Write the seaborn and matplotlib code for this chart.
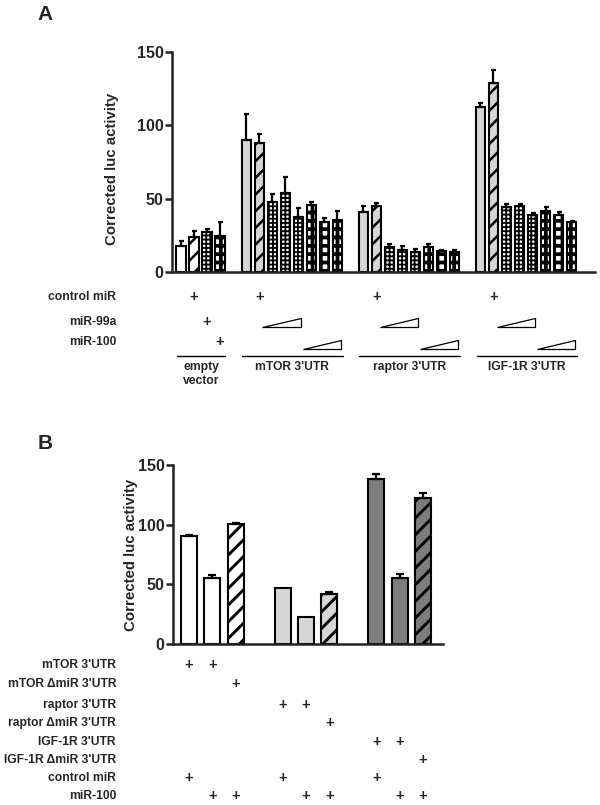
import numpy as np
import pandas as pd
import matplotlib
matplotlib.use("Agg")
import matplotlib.pyplot as plt
import seaborn as sns
from matplotlib.transforms import blended_transform_factory
from matplotlib.patches import Polygon

sns.set_theme(style="white")
plt.rcParams["font.family"] = ["Liberation Sans", "DejaVu Sans"]
plt.rcParams["font.weight"] = "bold"
plt.rcParams["axes.labelweight"] = "bold"
plt.rcParams["hatch.linewidth"] = 1.6

# ---------------- Panel A data ----------------
a_group_labels = ["empty\nvector", "mTOR 3'UTR", "raptor 3'UTR", "IGF-1R 3'UTR"]
a_empty_vals = [17.7, 23.9, 27.3, 24.5]
a_empty_sem = [3.3, 4.1, 2.0, 9.5]
a_mtor_vals = [90.0, 88.0, 48.0, 54.0, 37.8, 45.7, 34.2, 35.4]
a_mtor_sem = [18.0, 6.0, 5.0, 11.0, 5.8, 2.1, 2.6, 6.3]
a_raptor_vals = [41.0, 45.0, 17.0, 15.0, 13.6, 17.0, 14.3, 13.6]
a_raptor_sem = [4.0, 2.0, 2.0, 2.7, 2.1, 2.0, 0.7, 1.4]
a_igf_vals = [112.7, 128.6, 44.5, 45.0, 38.9, 41.6, 38.9, 34.3]
a_igf_sem = [2.7, 9.4, 1.9, 1.4, 1.1, 2.9, 1.8, 0.4]
a_empty_styles = ["white", "white_diag", "checker", "bricks"]
a_utr_styles = ["gray", "gray_diag", "checker", "checker", "checker", "bricks", "bricks", "bricks"]
a_row_labels = ["control miR", "miR-99a", "miR-100"]

# ---------------- Panel B data ----------------
b_vals = [90.5, 55.3, 100.6, 47.0, 22.6, 42.0, 138.3, 55.3, 122.4]
b_sem = [0.6, 2.5, 1.0, 0.0, 0.0, 1.6, 4.5, 3.2, 4.0]
b_styles = ["white", "white", "white_diag", "lgray", "lgray", "lgray_diag", "dgray", "dgray", "dgray_diag"]
b_row_labels = ["mTOR 3'UTR", "mTOR \u0394miR 3'UTR", "raptor 3'UTR", "raptor \u0394miR 3'UTR",
                "IGF-1R 3'UTR", "IGF-1R \u0394miR 3'UTR", "control miR", "miR-100"]
# which bar (index) gets a "+" in each row
b_plus = [[0, 1], [2], [3, 4], [5], [6, 7], [8], [0, 3, 6], [1, 2, 4, 5, 7, 8]]

LGRAY = "#d6d6d6"
DGRAY = "#7d7d7f"

# positions (slots) for bars: groups separated by one empty slot
a_vals = a_empty_vals + a_mtor_vals + a_raptor_vals + a_igf_vals
a_sem = a_empty_sem + a_mtor_sem + a_raptor_sem + a_igf_sem
a_styles = a_empty_styles + a_utr_styles * 3
a_sizes = [4, 8, 8, 8]
a_pos, a_starts = [], []
p = 0
for n in a_sizes:
    a_starts.append(p)
    a_pos.extend(range(p, p + n))
    p += n + 1
b_pos = []
p = 0
for n in [3, 3, 3]:
    b_pos.extend(range(p, p + n))
    p += n + 1

dfA = pd.DataFrame({"pos": a_pos, "val": a_vals, "sem": a_sem, "style": a_styles}).sort_values("pos")
dfB = pd.DataFrame({"pos": b_pos, "val": b_vals, "sem": b_sem, "style": b_styles}).sort_values("pos")

fig = plt.figure(figsize=(6.0, 8.05), dpi=100)
axA = fig.add_axes([172 / 600, 1 - 272 / 805, (595 - 172) / 600, (272 - 52) / 805])
axB = fig.add_axes([173 / 600, 1 - 644 / 805, (443 - 173) / 600, (644 - 465) / 805])


def style_patch(patch, style, diag_hatch, diag_lw):
    face = "white"
    hatch = None
    hlw = None
    if style == "gray" or style == "lgray":
        face = LGRAY
    elif style == "dgray":
        face = DGRAY
    elif style == "white_diag":
        hatch, hlw = diag_hatch, diag_lw
    elif style in ("gray_diag", "lgray_diag"):
        face, hatch, hlw = LGRAY, diag_hatch, diag_lw
    elif style == "dgray_diag":
        face, hatch, hlw = DGRAY, diag_hatch, diag_lw
    elif style == "checker":
        hatch, hlw = "++++", 1.3
    elif style == "bricks":
        hatch, hlw = "++", 2.7
    patch.set_facecolor(face)
    patch.set_edgecolor("black")
    patch.set_linewidth(1.5)
    if hatch:
        patch.set_hatch(hatch)
        if hasattr(patch, "set_hatch_linewidth"):
            patch.set_hatch_linewidth(hlw)


def draw_panel(ax, df, width, diag_hatch, diag_lw, capsize):
    sns.barplot(data=df, x="pos", y="val", native_scale=True, width=width,
                color="white", errorbar=None, ax=ax, zorder=2)
    bars = [pt for pt in ax.patches]
    for patch, st in zip(bars, df["style"]):
        style_patch(patch, st, diag_hatch, diag_lw)
    sem = df["sem"].to_numpy()
    has = sem > 0
    ax.errorbar(df["pos"].to_numpy()[has], df["val"].to_numpy()[has],
                yerr=[np.zeros(has.sum()), sem[has]], fmt="none", ecolor="black",
                elinewidth=1.6, capsize=capsize, capthick=1.6, zorder=3)
    ax.set_ylim(0, 150)
    ax.set_yticks([0, 50, 100, 150])
    ax.set_xticks([])
    ax.set_xlabel("")
    ax.set_ylabel("Corrected luc activity", fontsize=10.8, fontweight="bold")
    for side in ["top", "right"]:
        ax.spines[side].set_visible(False)
    for side in ["left", "bottom"]:
        ax.spines[side].set_linewidth(1.8)
        ax.spines[side].set_color("#222222")
    ax.tick_params(axis="y", direction="out", length=5, width=1.8, labelsize=11.5, pad=1,
                   left=True, color="#222222")
    for lab in ax.get_yticklabels():
        lab.set_fontweight("bold")


draw_panel(axA, dfA, 0.72, "//", 1.8, 1.8)
axA.set_xlim(-0.7, 31.8)
axA.yaxis.set_label_coords(-0.125, 0.47)

draw_panel(axB, dfB, 0.68, "//", 2.1, 3.2)
axB.set_xlim(-0.68, 10.85)
axB.yaxis.set_label_coords(-0.13, 0.5)

fig.text(45 / 600, 1 - 14 / 805, "A", fontsize=15, fontweight="bold", ha="center", va="center")
fig.text(45 / 600, 1 - 443 / 805, "B", fontsize=15, fontweight="bold", ha="center", va="center")

# ---------------- Panel A annotations ----------------
trA = blended_transform_factory(axA.transData, fig.transFigure)
a_row_y = [297, 322, 342]
for lab, yy in zip(a_row_labels, a_row_y):
    fig.text(116 / 600, 1 - yy / 805, lab, ha="right", va="center", fontsize=8.7, fontweight="bold")

PLUS_FS = 10.5
def plus(ax_tr, x, y_px):
    axA.text(x, 1 - y_px / 805, "+", transform=ax_tr, ha="center", va="center",
             fontsize=PLUS_FS, fontweight="bold", clip_on=False)

# empty vector: control, miR-99a, miR-100 on bars 1,2,3
plus(trA, a_pos[1], a_row_y[0])
plus(trA, a_pos[2], a_row_y[1])
plus(trA, a_pos[3], a_row_y[2])
# UTR groups: control on hatched bar
for s in a_starts[1:]:
    plus(trA, s + 1, a_row_y[0])

def ramp(x0, x1, base_px, top_px):
    poly = Polygon([[x0, 1 - base_px / 805], [x1, 1 - base_px / 805], [x1, 1 - top_px / 805]],
                   closed=True, facecolor="white", edgecolor="black", linewidth=0.9,
                   transform=trA, clip_on=False)
    axA.add_patch(poly)

for s in a_starts[1:]:
    ramp(s + 1.25, s + 4.2, 327, 318)
    ramp(s + 4.35, s + 7.3, 349, 340)

line_y = 1 - 356 / 805
for s, n, lab in zip(a_starts, a_sizes, a_group_labels):
    x0, x1 = s - 0.3, s + n - 1 + 0.4
    axA.plot([x0, x1], [line_y, line_y], color="black", lw=1.0, transform=trA, clip_on=False)
    axA.text((x0 + x1) / 2, 1 - 361 / 805, lab, transform=trA, ha="center", va="top",
             fontsize=8.7, fontweight="bold", linespacing=1.25, clip_on=False)

# ---------------- Panel B annotations ----------------
trB = blended_transform_factory(axB.transData, fig.transFigure)
b_row_y = [665, 684, 705, 723, 742, 760, 778, 796]
for lab, yy, idxs in zip(b_row_labels, b_row_y, b_plus):
    fig.text(116 / 600, 1 - yy / 805, lab, ha="right", va="center", fontsize=8.7, fontweight="bold")
    for i in idxs:
        axB.text(b_pos[i], 1 - yy / 805, "+", transform=trB, ha="center", va="center",
                 fontsize=PLUS_FS, fontweight="bold", clip_on=False)

fig.savefig("out.png", dpi=100, facecolor="white")
